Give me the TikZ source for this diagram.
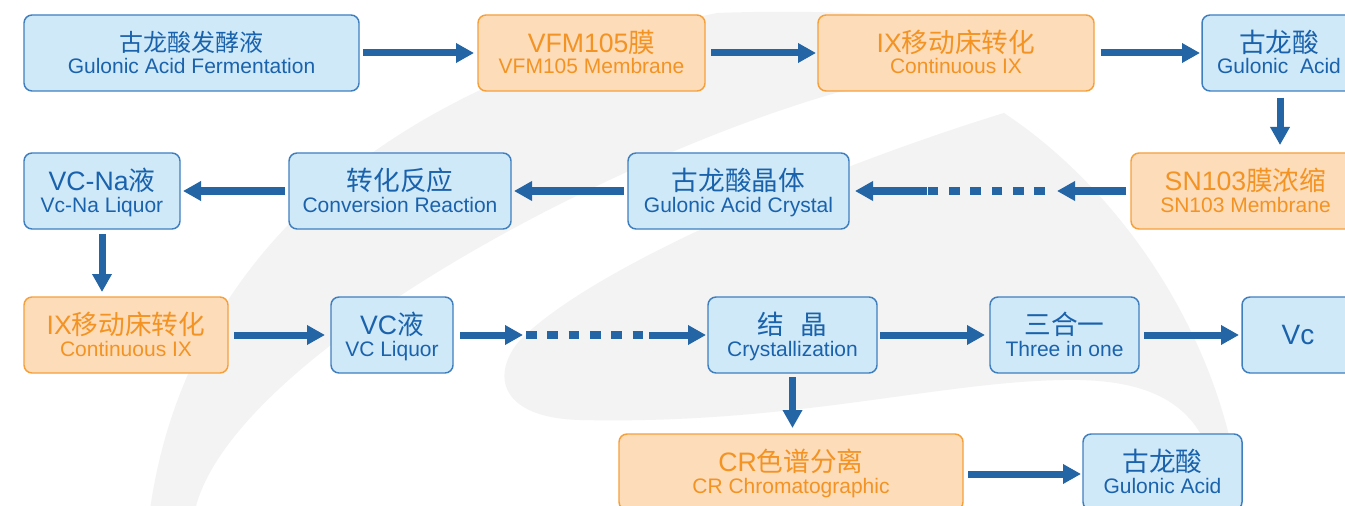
\documentclass[tikz,border=0pt]{standalone}
\usepackage{fontspec}
\setmainfont{Liberation Sans}
\newfontfamily\cjk{Noto Sans CJK SC}
\usetikzlibrary{arrows.meta,calc}
\definecolor{bfill}{HTML}{CFE9F8}
\definecolor{bdraw}{HTML}{3F7FC0}
\definecolor{btext}{HTML}{1A62AC}
\definecolor{ofill}{HTML}{FDDCB9}
\definecolor{odraw}{HTML}{F6A03C}
\definecolor{otext}{HTML}{F39323}
\definecolor{arrc}{HTML}{2465A6}
\definecolor{swoosh}{HTML}{F3F3F3}
\begin{document}
\begin{tikzpicture}[x=0.75pt,y=-0.75pt,
  box/.style={rectangle, rounded corners=6pt, line width=1.1pt, inner sep=0pt, outer sep=0pt, minimum height=57pt},
  bbox/.style={box, fill=bfill, draw=bdraw},
  obox/.style={box, fill=ofill, draw=odraw},
  w/.style={minimum width=#1*0.75pt},
  zh/.style={inner sep=0pt, font=\fontsize{20pt}{24pt}\selectfont},
  zhs/.style={inner sep=0pt, font=\fontsize{18pt}{22pt}\selectfont},
  en/.style={inner sep=0pt, anchor=base, font=\fontsize{15.75pt}{18pt}\selectfont},
  bt/.style={text=btext},
  ot/.style={text=otext},
  arr/.style={draw=arrc, line width=5.25pt, -{Triangle[length=13.5pt,width=14pt]}},
  dots/.style={draw=arrc, line width=6pt, dash pattern=on 7.9pt off 8.1pt}
]
\useasboundingbox (0,0) rectangle (1345,506);
\fill[white] (0,0) rectangle (1345,506);
\clip (0,0) rectangle (1345,506);
% background swoosh
\fill[swoosh] (150,510) .. controls (175,330) and (300,100) .. (717,13)
  .. controls (850,8) and (990,18) .. (1060,45)
  .. controls (1000,72) and (920,82) .. (839,92)
  .. controls (600,160) and (230,360) .. (195,510) -- cycle;
\fill[swoosh] (1004,113) .. controls (850,160) and (600,260) .. (520,340)
  .. controls (490,375) and (500,418) .. (580,420)
  .. controls (800,425) and (950,378) .. (1080,380)
  .. controls (1160,382) and (1200,410) .. (1215,470)
  -- (1238,480) .. controls (1215,330) and (1120,190) .. (1004,113) -- cycle;
% row 1
\node[bbox, w=335] (b1) at (191.5,53) {};
\node[zhs, bt] (b1z) at ($(b1.center)+(0,-11)$) {\cjk 古龙酸发酵液};
\node[en, bt] (b1e) at ($(b1.center)+(0,21)$) {Gulonic Acid Fermentation};
\node[obox, w=227] (b2) at (591.5,53) {};
\node[zh, ot] (b2z) at ($(b2.center)+(0,-11)$) {VFM105{\cjk 膜}};
\node[en, ot] (b2e) at ($(b2.center)+(0,21)$) {VFM105 Membrane};
\node[obox, w=276] (b3) at (956,53) {};
\node[zh, ot] (b3z) at ($(b3.center)+(0,-11)$) {IX{\cjk 移动床转化}};
\node[en, ot] (b3e) at ($(b3.center)+(0,21)$) {Continuous IX};
\node[bbox, w=154] (b4) at (1279,53) {};
\node[zh, bt] (b4z) at ($(b4.center)+(0,-11)$) {\cjk 古龙酸};
\node[en, bt] (b4e) at ($(b4.center)+(0,21)$) {Gulonic\ \ Acid};
% row 2
\node[obox, w=229] (b5) at (1245.5,191) {};
\node[zh, ot] (b5z) at ($(b5.center)+(0,-11)$) {SN103{\cjk 膜浓缩}};
\node[en, ot] (b5e) at ($(b5.center)+(0,21)$) {SN103 Membrane};
\node[bbox, w=221] (b6) at (738.5,191) {};
\node[zh, bt] (b6z) at ($(b6.center)+(0,-11)$) {\cjk 古龙酸晶体};
\node[en, bt] (b6e) at ($(b6.center)+(0,21)$) {Gulonic Acid Crystal};
\node[bbox, w=222] (b7) at (400,191) {};
\node[zh, bt] (b7z) at ($(b7.center)+(0,-11)$) {\cjk 转化反应};
\node[en, bt] (b7e) at ($(b7.center)+(0,21)$) {Conversion Reaction};
\node[bbox, w=156] (b8) at (102,191) {};
\node[zh, bt] (b8z) at ($(b8.center)+(0,-11)$) {VC-Na{\cjk 液}};
\node[en, bt] (b8e) at ($(b8.center)+(0,21)$) {Vc-Na Liquor};
% row 3
\node[obox, w=204] (b9) at (126,335) {};
\node[zh, ot] (b9z) at ($(b9.center)+(0,-11)$) {IX{\cjk 移动床转化}};
\node[en, ot] (b9e) at ($(b9.center)+(0,21)$) {Continuous IX};
\node[bbox, w=122] (b10) at (392,335) {};
\node[zh, bt] (b10z) at ($(b10.center)+(0,-11)$) {VC{\cjk 液}};
\node[en, bt] (b10e) at ($(b10.center)+(0,21)$) {VC Liquor};
\node[bbox, w=169] (b11) at (792.5,335) {};
\node[zh, bt] (b11z) at ($(b11.center)+(0,-11)$) {{\cjk 结}\hspace{0.6em}{\cjk 晶}};
\node[en, bt] (b11e) at ($(b11.center)+(0,21)$) {Crystallization};
\node[bbox, w=149] (b12) at (1064.5,335) {};
\node[zh, bt] (b12z) at ($(b12.center)+(0,-11)$) {\cjk 三合一};
\node[en, bt] (b12e) at ($(b12.center)+(0,21)$) {Three in one};
\node[bbox, w=112] (b13) at (1298,335) {};
\node[inner sep=0pt, bt, font=\fontsize{21pt}{24pt}\selectfont] (b13t) at (b13.center) {Vc};
% row 4
\node[obox, w=344] (b14) at (791,472) {};
\node[zh, ot] (b14z) at ($(b14.center)+(0,-11)$) {CR{\cjk 色谱分离}};
\node[en, ot] (b14e) at ($(b14.center)+(0,21)$) {CR Chromatographic};
\node[bbox, w=159] (b15) at (1162.5,472) {};
\node[zh, bt] (b15z) at ($(b15.center)+(0,-11)$) {\cjk 古龙酸};
\node[en, bt] (b15e) at ($(b15.center)+(0,21)$) {Gulonic Acid};
% free ends of the dotted connectors
\coordinate (r2a) at (1057,191);
\coordinate (r2b) at (1045,191);
\coordinate (r2c) at (927,191);
\coordinate (r3a) at (523,335);
\coordinate (r3b) at (526,335);
\coordinate (r3c) at (643,335);
\coordinate (r3d) at (649,335);
% connectors row 1
\draw[arr, shorten <=3pt, shorten >=3pt] (b1.east) -- (b2.west);
\draw[arr, shorten <=4.5pt, shorten >=1.5pt] (b2.east) -- (b3.west);
\draw[arr, shorten <=5pt, shorten >=1.5pt] (b3.east) -- (b4.west);
\draw[arr, shorten <=5pt, shorten >=6pt] ([xshift=0.75pt]b4.south) -- ([xshift=0.75pt]b4.south |- b5.north);
% row 2
\draw[arr, shorten <=3.75pt] (b5.west) -- (r2a);
\draw[dots] (r2b) -- (r2c);
\draw[arr, shorten >=4.5pt] (r2c) -- (b6.east);
\draw[arr, shorten <=3pt, shorten >=2.25pt] (b6.west) -- (b7.east);
\draw[arr, shorten <=3pt, shorten >=2.25pt] (b7.west) -- (b8.east);
\draw[arr, shorten <=3.75pt, shorten >=3.75pt] (b8.south) -- (b8.south |- b9.north);
% row 3
\draw[arr, shorten <=4.5pt, shorten >=4.5pt] (b9.east) -- (b10.west);
\draw[arr, shorten <=5.25pt] (b10.east) -- (r3a);
\draw[dots] (r3b) -- (r3c);
\draw[arr, shorten >=1.5pt] (r3d) -- (b11.west);
\draw[arr, shorten <=2.25pt, shorten >=3.75pt] (b11.east) -- (b12.west);
\draw[arr, shorten <=3.75pt, shorten >=2.25pt] (b12.east) -- (b13.west);
\draw[arr, shorten <=3pt, shorten >=4.5pt] (b11.south) -- (b11.south |- b14.north);
% row 4
\draw[arr, shorten <=3.75pt, shorten >=1.5pt] ([yshift=-1.5pt]b14.east) -- ([yshift=-1.5pt]b15.west);
\end{tikzpicture}
\end{document}
